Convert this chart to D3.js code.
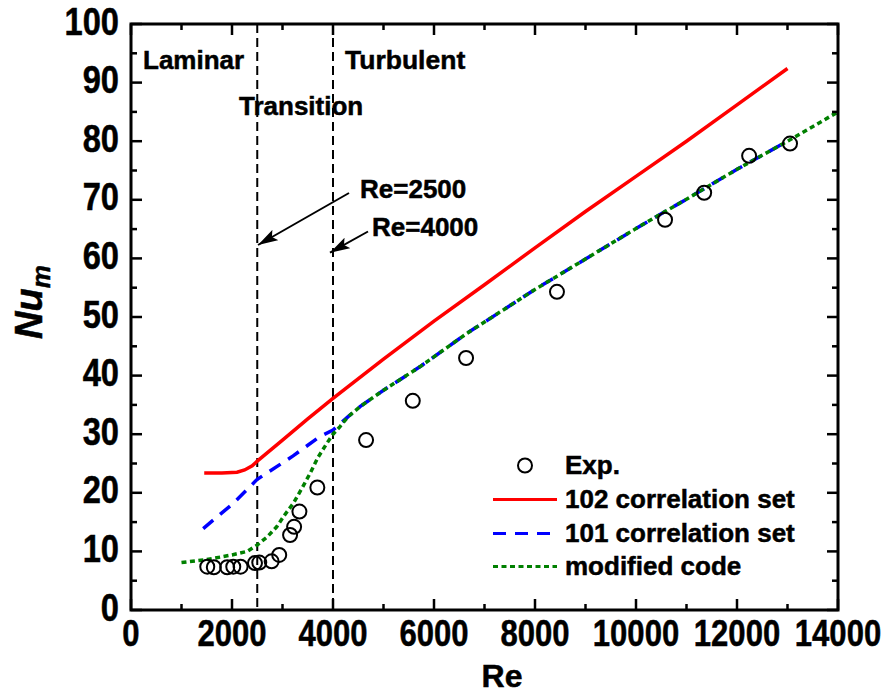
<!DOCTYPE html>
<html><head><meta charset="utf-8">
<script src="https://cdn.jsdelivr.net/npm/d3@7"></script>
<style>
html,body{margin:0;padding:0;background:#fff;}
svg text{font-family:"Liberation Sans",Arial,sans-serif;font-weight:bold;fill:#000;stroke:#000;stroke-width:0.5px;}
</style></head>
<body><svg id="c" width="892" height="696"></svg>
<script>
// ---- data ----
const expRe = [1510,1640,1905,2025,2170,2455,2540,2785,2935,3150,3230,3335,3690,4655,5580,6635,8435,10575,11350,12240,13050];
const expNu = [7.4,7.3,7.3,7.4,7.4,8.0,8.1,8.3,9.4,12.8,14.2,16.8,20.9,29.0,35.7,43.0,54.3,66.6,71.2,77.5,79.6];

const set102Re = [1450,1800,2100,2250,2400,2500,3000,3500,4000,5000,6000,7000,8000,9000,10000,11000,12000,13000];
const set102Nu = [23.4,23.4,23.5,23.9,24.6,25.4,29.0,32.6,36.1,42.8,49.3,55.5,61.8,68.0,74.0,80.0,86.2,92.4];

const set101Re = [1430,2025,2500,3210,3740,4000,4300,4535,5000,5720,6650,8000,8500,9000,10000,10575,11000,11370,12000,13000];
const set101Nu = [13.9,18.2,22.3,26.3,29.6,30.7,33.0,34.7,37.5,41.5,47.2,54.7,57.3,59.9,65.1,68.0,70.1,72.0,75.2,80.0];

const modRe = [1000,1500,2000,2300,2500,2700,2885,3050,3214,3400,3545,3700,3875,4000,4139,4300,4535,5000,5720,6650,8000,8500,9000,10000,10575,11000,11370,12000,13000,14000];
const modNu = [8.1,8.6,9.4,10.0,11.1,12.5,14.2,16.3,18.2,21.0,23.3,26.0,28.4,30.0,31.3,33.0,34.7,37.5,41.5,47.2,54.7,57.3,59.9,65.1,68.0,70.1,72.0,75.2,80.0,85.0];

const xTicks = [0,2000,4000,6000,8000,10000,12000,14000];
const yTicks = [0,10,20,30,40,50,60,70,80,90,100];
const boundaries = [2500,4000];
const legendLabels = ["Exp.","102 correlation set","101 correlation set","modified code"];

// ---- layout ----
const L=131, T=24, R=838, B=610;
const svg = d3.select("#c");
const x = d3.scaleLinear().domain([0,14000]).range([L,R]);
const y = d3.scaleLinear().domain([0,100]).range([B,T]);

svg.append("defs").append("marker").attr("id","ah").attr("viewBox","0 0 20 12")
  .attr("refX",20).attr("refY",6).attr("markerWidth",20).attr("markerHeight",12)
  .attr("markerUnits","userSpaceOnUse").attr("orient","auto")
  .append("path").attr("d","M0,0 L20,6 L0,12 L4,6 Z").attr("fill","#000");

// boundary dashed lines
svg.selectAll(".vb").data(boundaries).enter().append("line")
  .attr("x1",d=>x(d)).attr("x2",d=>x(d)).attr("y1",T).attr("y2",B)
  .attr("stroke","#000").attr("stroke-width",2).attr("stroke-dasharray","9,5");

// lines
const line = (xs,ys)=>d3.line().x((d,i)=>x(xs[i])).y((d,i)=>y(ys[i]))(xs);
svg.append("path").attr("d",line(set102Re,set102Nu)).attr("fill","none")
  .attr("stroke","#ff0000").attr("stroke-width",3.5);
svg.append("path").attr("d",line(set101Re,set101Nu)).attr("fill","none")
  .attr("stroke","#0000ff").attr("stroke-width",3.5).attr("stroke-dasharray","13,9");
svg.append("path").attr("d",line(modRe,modNu)).attr("fill","none")
  .attr("stroke","#008000").attr("stroke-width",3.5).attr("stroke-dasharray","5,3.5");

// exp points
svg.selectAll(".pt").data(expRe).enter().append("circle")
  .attr("cx",(d)=>x(d)).attr("cy",(d,i)=>y(expNu[i])).attr("r",7)
  .attr("fill","none").attr("stroke","#000").attr("stroke-width",2);

// axes
const minorX = d3.range(0,14001,1000), minorY = d3.range(0,101,5);
const ax = svg.append("g").attr("stroke","#000").attr("stroke-width",2.5);
minorX.forEach(v=>{
  const len = v%2000===0?11:6;
  ax.append("line").attr("x1",x(v)).attr("x2",x(v)).attr("y1",B).attr("y2",B-len);
  ax.append("line").attr("x1",x(v)).attr("x2",x(v)).attr("y1",T).attr("y2",T+len);
});
minorY.forEach(v=>{
  const len = v%10===0?11:6;
  ax.append("line").attr("y1",y(v)).attr("y2",y(v)).attr("x1",L).attr("x2",L+len);
  ax.append("line").attr("y1",y(v)).attr("y2",y(v)).attr("x1",R).attr("x2",R-len);
});
svg.append("rect").attr("x",L).attr("y",T).attr("width",R-L).attr("height",B-T)
  .attr("fill","none").attr("stroke","#000").attr("stroke-width",3);

// tick labels (horizontally condensed via transform)
svg.selectAll(".xt").data(xTicks).enter().append("text")
  .attr("transform",d=>`translate(${x(d)},646) scale(0.84,1)`).attr("text-anchor","middle")
  .attr("font-size",37).text(d=>d);
svg.selectAll(".yt").data(yTicks).enter().append("text")
  .attr("transform",d=>`translate(119,${y(d)+10.5}) scale(0.86,1)`).attr("text-anchor","end")
  .attr("font-size",38).text(d=>d);

// axis titles
svg.append("text").attr("x",502).attr("y",687).attr("text-anchor","middle")
  .attr("font-size",32).text("Re");
const yt = svg.append("text").attr("transform","translate(42,302) rotate(-90)")
  .attr("text-anchor","middle").attr("font-size",38).attr("font-style","italic");
yt.append("tspan").text("Nu");
yt.append("tspan").attr("font-size",26).attr("dy",8).text("m");

// region labels
const ann = [["Laminar",143,69,26],["Transition",239,115,26],["Turbulent",345,69,26.5],["Re=2500",360,198,26],["Re=4000",372,236,26]];
svg.selectAll(".an").data(ann).enter().append("text")
  .attr("x",d=>d[1]).attr("y",d=>d[2]).attr("font-size",d=>d[3])
  .text(d=>d[0]);

// arrows
svg.append("line").attr("x1",349).attr("y1",193).attr("x2",258).attr("y2",245)
  .attr("stroke","#000").attr("stroke-width",2).attr("marker-end","url(#ah)");
svg.append("line").attr("x1",368).attr("y1",231.5).attr("x2",330).attr("y2",252.7)
  .attr("stroke","#000").attr("stroke-width",2).attr("marker-end","url(#ah)");

// legend
const lg = svg.append("g");
const baseY = [474,508,542,575];
lg.append("circle").attr("cx",525).attr("cy",baseY[0]-8.5).attr("r",7)
  .attr("fill","none").attr("stroke","#000").attr("stroke-width",2);
const lstyles = [null,["#ff0000",null],["#0000ff","13,9"],["#008000","5,3.5"]];
lstyles.forEach((s,i)=>{
  if(!s) return;
  lg.append("line").attr("x1",493).attr("x2",557).attr("y1",baseY[i]-8.5).attr("y2",baseY[i]-8.5)
    .attr("stroke",s[0]).attr("stroke-width",3).attr("stroke-dasharray",s[1]);
});
lg.selectAll("text").data(legendLabels).enter().append("text")
  .attr("x",565).attr("y",(d,i)=>baseY[i]).attr("font-size",26).text(d=>d);
</script></body></html>
